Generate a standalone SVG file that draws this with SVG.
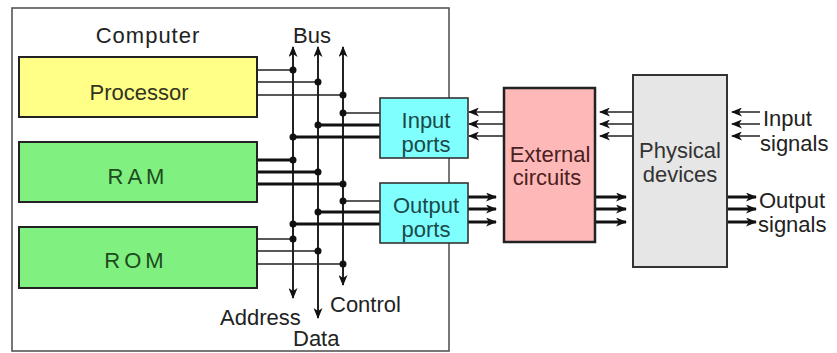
<svg xmlns="http://www.w3.org/2000/svg" width="837" height="353" viewBox="0 0 837 353">
<defs>
<style>
text{font-family:"Liberation Sans",Arial,sans-serif;font-size:22px;}
.box{stroke:#222;stroke-width:2;}
.bus{stroke:#222;stroke-width:2;fill:none;}
.thin{stroke:#222;stroke-width:1.5;fill:none;}
.thick{stroke:#111;stroke-width:3;fill:none;}
.dot{fill:#111;}
</style>
<marker id="ah" markerUnits="userSpaceOnUse" markerWidth="11" markerHeight="9" refX="10" refY="4.5" orient="auto-start-reverse">
<path d="M0,0 L11,4.5 L0,9 L3,4.5 Z" fill="#111"/>
</marker>
</defs>
<rect width="837" height="353" fill="#fff"/>
<g id="computer">
<rect x="12" y="8" width="437" height="343" fill="#fff" stroke="#555" stroke-width="1.6"/>
<text x="148" y="43" text-anchor="middle" fill="#222" letter-spacing="1">Computer</text>
</g>
<g id="connectors">
<g class="bus" marker-start="url(#ah)" marker-end="url(#ah)">
<line x1="293" y1="47" x2="293" y2="298"/>
<line x1="318" y1="47" x2="318" y2="318"/>
<line x1="343" y1="47" x2="343" y2="285"/>
</g>
<path class="thin" d="M257,70 H293 M257,82 H318 M257,95 H343"/>
<path class="thin" d="M343,113 H380"/>
<path class="thick" d="M318,125 H380 M293,137 H380"/>
<path class="thick" d="M257,160 H293 M257,172 H318 M257,184 H343"/>
<path class="thin" d="M343,201 H380"/>
<path class="thick" d="M318,212 H380 M293,224 H380"/>
<path class="thin" d="M257,239 H293 M257,251 H318 M257,264 H343"/>
<g class="dot">
<circle cx="293" cy="70" r="3.5"/><circle cx="318" cy="82" r="3.5"/><circle cx="343" cy="95" r="3.5"/>
<circle cx="343" cy="113" r="3.5"/><circle cx="318" cy="125" r="3.5"/><circle cx="293" cy="137" r="3.5"/>
<circle cx="293" cy="160" r="3.5"/><circle cx="318" cy="172" r="3.5"/><circle cx="343" cy="184" r="3.5"/>
<circle cx="343" cy="201" r="3.5"/><circle cx="318" cy="212" r="3.5"/><circle cx="293" cy="224" r="3.5"/>
<circle cx="293" cy="239" r="3.5"/><circle cx="318" cy="251" r="3.5"/><circle cx="343" cy="264" r="3.5"/>
</g>
<g class="thin" marker-end="url(#ah)">
<line x1="504" y1="112" x2="469" y2="112"/><line x1="504" y1="124" x2="469" y2="124"/><line x1="504" y1="136" x2="469" y2="136"/>
<line x1="633" y1="112" x2="600" y2="112"/><line x1="633" y1="124" x2="600" y2="124"/><line x1="633" y1="136" x2="600" y2="136"/>
<line x1="760" y1="112" x2="732" y2="112"/><line x1="760" y1="124" x2="732" y2="124"/><line x1="760" y1="136" x2="732" y2="136"/>
</g>
<g class="thick" marker-end="url(#ah)">
<line x1="468" y1="197" x2="496" y2="197"/><line x1="468" y1="209" x2="496" y2="209"/><line x1="468" y1="222" x2="496" y2="222"/>
<line x1="595" y1="197" x2="626" y2="197"/><line x1="595" y1="209" x2="626" y2="209"/><line x1="595" y1="222" x2="626" y2="222"/>
<line x1="727" y1="197" x2="756" y2="197"/><line x1="727" y1="209" x2="756" y2="209"/><line x1="727" y1="222" x2="756" y2="222"/>
</g>
</g>
<g id="processor">
<rect class="box" x="19" y="57" width="238" height="60" fill="#ffff88"/>
<text x="139" y="100" text-anchor="middle" fill="#333320">Processor</text>
</g>
<g id="ram">
<rect class="box" x="19" y="142" width="238" height="60" fill="#80f080"/>
<text x="138" y="184" text-anchor="middle" fill="#1e4a1e" letter-spacing="4">RAM</text>
</g>
<g id="rom">
<rect class="box" x="19" y="227" width="238" height="61" fill="#80f080"/>
<text x="136" y="268" text-anchor="middle" fill="#1e4a1e" letter-spacing="4">ROM</text>
</g>
<g id="input-ports">
<rect x="380" y="98" width="88" height="60" fill="#80ffff" stroke="#333" stroke-width="1.6"/>
<text x="426" y="128" text-anchor="middle" fill="#1a4a4a">Input</text>
<text x="426" y="152" text-anchor="middle" fill="#1a4a4a">ports</text>
</g>
<g id="output-ports">
<rect x="380" y="183" width="88" height="60" fill="#80ffff" stroke="#333" stroke-width="1.6"/>
<text x="426" y="213" text-anchor="middle" fill="#1a4a4a">Output</text>
<text x="426" y="237" text-anchor="middle" fill="#1a4a4a">ports</text>
</g>
<g id="external-circuits">
<rect x="504" y="88" width="91" height="154" fill="#ffb8b8" stroke="#222" stroke-width="2.5"/>
<text x="550" y="162" text-anchor="middle" fill="#4a2020">External</text>
<text x="547" y="185" text-anchor="middle" fill="#4a2020">circuits</text>
</g>
<g id="physical-devices">
<rect x="633" y="75" width="94" height="192" fill="#e6e6e6" stroke="#333" stroke-width="2"/>
<text x="680" y="158" text-anchor="middle" fill="#333">Physical</text>
<text x="680" y="182" text-anchor="middle" fill="#333">devices</text>
</g>
<g id="labels" fill="#222">
<text x="293" y="43">Bus</text>
<text x="220" y="325">Address</text>
<text x="293" y="346">Data</text>
<text x="330" y="312">Control</text>
<text x="763" y="126">Input</text>
<text x="760" y="151">signals</text>
<text x="759" y="208">Output</text>
<text x="758" y="232">signals</text>
</g>
</svg>
